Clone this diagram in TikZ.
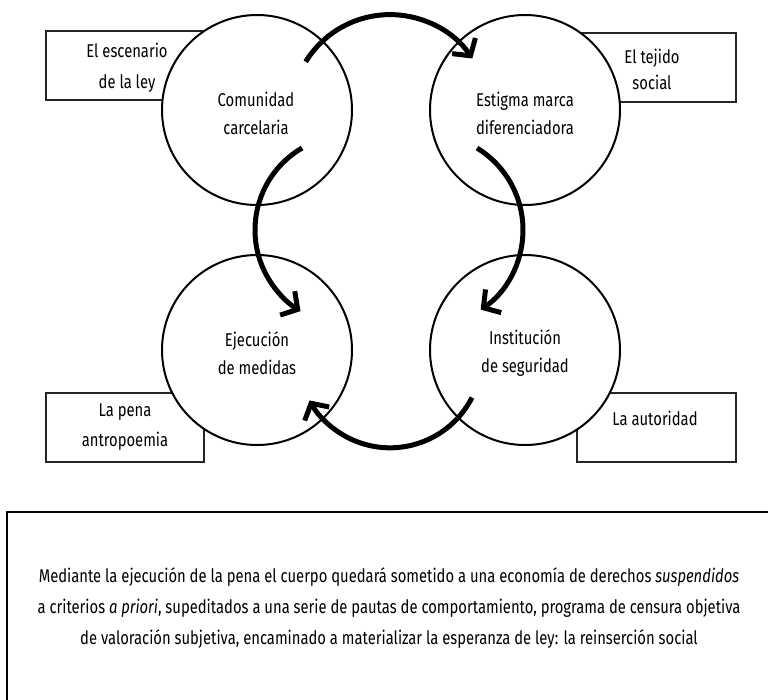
\documentclass[tikz,border=0pt]{standalone}
\usepackage{fontspec}
\setmainfont{Fira Sans}[FakeStretch=0.80]
\usetikzlibrary{arrows.meta}
\begin{document}
\begin{tikzpicture}[x=1pt,y=-1pt,
  lbox/.style={draw=black!85,line width=1.1pt},
  bubble/.style={circle,draw=black,line width=2pt,fill=white,minimum size=190pt,inner sep=0pt},
  flow/.style={line width=5pt,-{Straight Barb[length=12pt,width=28pt,line width=5pt]}},
  lbl/.style={font=\fontsize{18.5}{28}\selectfont,align=center,inner sep=0pt},
  txt/.style={font=\fontsize{18.5}{31}\selectfont,align=center,inner sep=0pt}]
\useasboundingbox (0,0) rectangle (768,699);
% side boxes
\draw[lbox] (46,31) rectangle (230,100);
\draw[lbox] (550,33) rectangle (736,102);
\draw[lbox] (46,393) rectangle (204,462);
\draw[lbox] (577,393) rectangle (736,462);
\node[lbl,font=\fontsize{18.5}{31}\selectfont] (b1) at (127,67.5) {El escenario\\de la ley};
\node[lbl,font=\fontsize{18.5}{26}\selectfont] (b2) at (652,69.5) {El tejido\\social};
\node[lbl,font=\fontsize{18.5}{30}\selectfont] (b3) at (125,427) {La pena\\antropoemia};
\node[lbl] (b4) at (655,418) {La autoridad};
% circles
\node[bubble] (c1) at (257,110) {};
\node[bubble] (c2) at (525,110) {};
\node[bubble] (c3) at (257,350) {};
\node[bubble] (c4) at (525,350) {};
\node[lbl] (t1) at (256,113) {Comunidad\\carcelaria};
\node[lbl] (t2) at (525,113) {Estigma marca\\diferenciadora};
\node[lbl] (t3) at (257,353) {Ejecución\\de medidas};
\node[lbl] (t4) at (525,353) {Institución\\de seguridad};
% arrows
\path (390,113.6) ++(-148.4:99) coordinate (a1);
\path (350,230) ++(-120.3:95) coordinate (a2);
\path (427,230) ++(-58.6:96) coordinate (a3);
\path (390,355.8) ++(27:92) coordinate (a4);
\draw[flow] (a1) arc[start angle=-148.4,end angle=-33.8,radius=99];
\draw[flow] (a2) arc[start angle=-120.3,end angle=-238.6,radius=95];
\draw[flow] (a3) arc[start angle=-58.6,end angle=56,radius=96];
\draw[flow] (a4) arc[start angle=27,end angle=151,radius=92];
% bottom box
\draw[line width=1.2pt] (780,512) -- (7,512) -- (7,720);
\node[txt] (body) at (389,608) {Mediante la ejecución de la pena el cuerpo quedará sometido a una economía de derechos \textit{suspendidos}\\
a criterios \textit{a priori}, supeditados a una serie de pautas de comportamiento, programa de censura objetiva\\
de valoración subjetiva, encaminado a materializar la esperanza de ley: la reinserción social};
\end{tikzpicture}
\end{document}
